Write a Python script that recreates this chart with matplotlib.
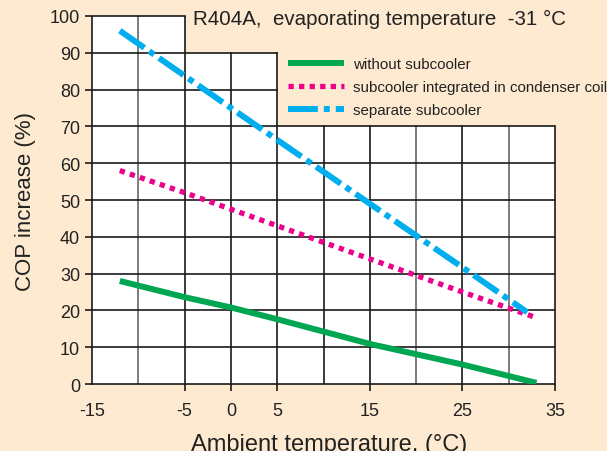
import matplotlib
matplotlib.use("Agg")
import matplotlib.pyplot as plt
from matplotlib.patches import Polygon

# ambient temperature (°C) and COP increase (%)
x_without = [-12, -5, 0, 5, 15, 25, 33]
y_without = [28, 23.6, 20.8, 17.6, 10.9, 5.3, 0.3]
x_integr = [-12, -5, 0, 5, 15, 25, 33]
y_integr = [58, 52, 47.5, 43, 34, 25, 18]
x_separate = [-12, 0, 15, 25, 32]
y_separate = [96, 75, 49, 31.7, 19.5]

labels = ["without subcooler", "subcooler integrated in condenser coil", "separate subcooler"]
xticks = [-15, -5, 0, 5, 15, 25, 35]
yticks = list(range(0, 101, 10))

CREAM = "#fdead0"
GREEN, PINK, BLUE = "#00a651", "#ec008c", "#00aeef"
plt.rcParams["font.family"] = ["Liberation Sans", "DejaVu Sans"]

fig = plt.figure(figsize=(6.07, 4.52), dpi=100, facecolor=CREAM)
ax = fig.add_axes([0.1516, 0.1482, 0.7627, 0.8142])
ax.set_facecolor(CREAM)
ax.set_xlim(-15, 35); ax.set_ylim(0, 100)

# white plot area with notch for title / legend
ax.add_patch(Polygon([(-15, 0), (35, 0), (35, 70), (5, 70), (5, 90), (-5, 90), (-5, 100), (-15, 100)],
                     closed=True, facecolor="white", edgecolor="none", zorder=0))

# grid, clipped to the white area
for gx in range(-10, 35, 5):
    top = 100 if gx <= -5 else (90 if gx <= 5 else 70)
    c = "#666666" if gx in (-10, 20, 30) else "#1a1a1a"
    ax.plot([gx, gx], [0, top], color=c, lw=1.2, zorder=1)
for gy in range(10, 100, 10):
    right = 35 if gy <= 70 else (5 if gy <= 90 else -5)
    ax.plot([-15, right], [gy, gy], color="#1a1a1a", lw=1.2, zorder=1)
ax.plot([-15, -15, -5], [0, 100, 100], color="#1a1a1a", lw=1.2, zorder=1, clip_on=False)
ax.plot([-15, 35, 35], [0, 0, 70], color="#1a1a1a", lw=1.2, zorder=1, clip_on=False)
for s in ax.spines.values():
    s.set_visible(False)

ax.plot(x_without, y_without, color=GREEN, lw=4.3, solid_capstyle="butt", zorder=3, label=labels[0])
ax.plot(x_integr, y_integr, color=PINK, lw=3.8, dashes=(1, 1), dash_capstyle="butt", zorder=3, label=labels[1])
ax.plot(x_separate, y_separate, color=BLUE, lw=4.3, dashes=(5, 1, 1, 1), dash_capstyle="butt", zorder=3, label=labels[2])

ax.set_xticks(xticks)
ax.set_xticklabels([str(t) for t in xticks], fontsize=13)
ax.set_yticks(yticks)
ax.set_yticklabels([str(t) for t in yticks], fontsize=13)
ax.tick_params(axis="both", direction="out", length=5, width=1.2, color="#1a1a1a", labelcolor="#222222")
ax.tick_params(axis="x", pad=8)
for t in ax.xaxis.get_major_ticks():
    if t.get_loc() == -15:
        t.tick1line.set_visible(False)

ax.set_ylabel("COP increase (%)", fontsize=16, color="#222222", labelpad=10)
ax.set_xlabel("Ambient temperature, (°C)", fontsize=17, color="#222222")
ax.xaxis.set_label_coords(0.512, -0.133)

ax.text(-4.1, 99.3, "R404A,  evaporating temperature  -31 °C", fontsize=14.8, color="#222222",
        va="center", ha="left", zorder=4)

leg = ax.legend(loc="upper left", bbox_to_anchor=(0.41, 0.905), frameon=False, fontsize=10.9,
                handlelength=3.7, handletextpad=0.6, labelspacing=0.6, borderaxespad=0)
for t in leg.get_texts():
    t.set_color("#222222")

fig.savefig("out.png", dpi=100, facecolor=CREAM)
